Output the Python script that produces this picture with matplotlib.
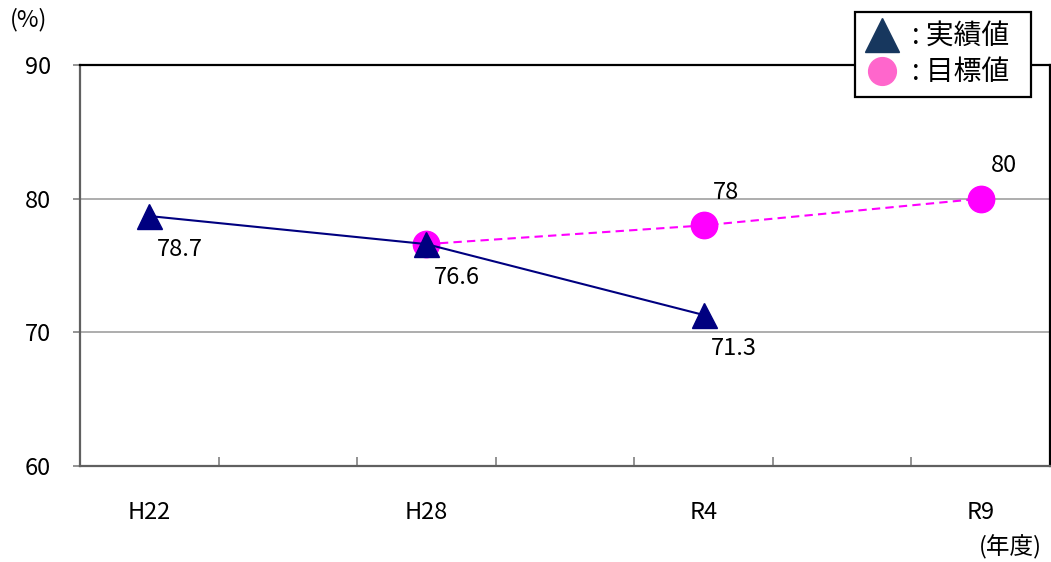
import numpy as np
import matplotlib.pyplot as plt
from matplotlib.lines import Line2D

plt.rcParams['font.family'] = ['Noto Sans CJK JP', 'DejaVu Sans']

# data
years = ["H22", "H28", "R4", "R9"]
actual = [78.7, 76.6, 71.3, np.nan]
target = [np.nan, 76.6, 78, 80]
actual_labels = ["78.7", "76.6", "71.3", ""]
target_labels = ["", "", "78", "80"]

# each year sits in the middle of two category slots
x = np.arange(len(years)) * 2

fig = plt.figure(figsize=(10.51, 5.62), dpi=100)
ax = fig.add_axes([80 / 1051, 96 / 562, 970 / 1051, 401 / 562])

ax.plot(x, target, color="#FF00FF", linestyle=(0, (4, 2.5)), linewidth=1.5,
        marker="o", markersize=19, zorder=3)
ax.plot(x, actual, color="#000080", linewidth=1.5,
        marker="^", markersize=18, zorder=4)

for xi, v, lab in zip(x, actual, actual_labels):
    if lab:
        ax.annotate(lab, (xi, v), xytext=(5.5, -24), textcoords="offset points",
                    ha="left", va="center", fontsize=17, zorder=5)
for xi, v, lab in zip(x, target, target_labels):
    if lab:
        ax.annotate(lab, (xi, v), xytext=(7, 24), textcoords="offset points",
                    ha="left", va="center", fontsize=17, zorder=5)

ax.set_xlim(-0.5, 6.5)
ax.set_ylim(60, 90)
ax.set_yticks([60, 70, 80, 90])
ax.yaxis.grid(True, color="#A0A0A0", linewidth=1.2)
ax.set_axisbelow(True)

ax.set_xticks(x)
ax.set_xticklabels(years)
ax.set_xticks(np.arange(0.5, 6, 1), minor=True)
ax.tick_params(axis="x", which="major", length=0, pad=25, labelsize=17)
ax.tick_params(axis="x", which="minor", direction="in", length=6.5,
               width=1.2, color="#808080")
ax.tick_params(axis="y", direction="out", length=5, width=1.2,
               color="#808080", pad=16, labelsize=17)

ax.spines["left"].set_color("#606060")
ax.spines["bottom"].set_color("#606060")
ax.spines["top"].set_color("black")
ax.spines["right"].set_color("black")
for s in ax.spines.values():
    s.set_linewidth(1.6)

fig.text(10 / 1051, 1 - 20 / 562, "(%)", fontsize=17, ha="left", va="center")
fig.text(1042 / 1051, 1 - 547 / 562, "(年度)", fontsize=17, ha="right", va="center")

handles = [
    Line2D([], [], linestyle="none", marker="^", markersize=24, color="#17375E"),
    Line2D([], [], linestyle="none", marker="o", markersize=20, color="#FF66CC"),
]
leg = fig.legend(handles, [": 実績値  ", ": 目標値  "], loc="upper right",
                 bbox_to_anchor=(1031 / 1051, 1 - 12 / 562), fontsize=20,
                 frameon=True, fancybox=False, framealpha=1, edgecolor="black",
                 handlelength=1.3, handletextpad=0.4, borderpad=0.35,
                 labelspacing=0.2, borderaxespad=0)
leg.get_frame().set_linewidth(1.6)
leg.set_zorder(10)

fig.savefig("out.png", dpi=100)
